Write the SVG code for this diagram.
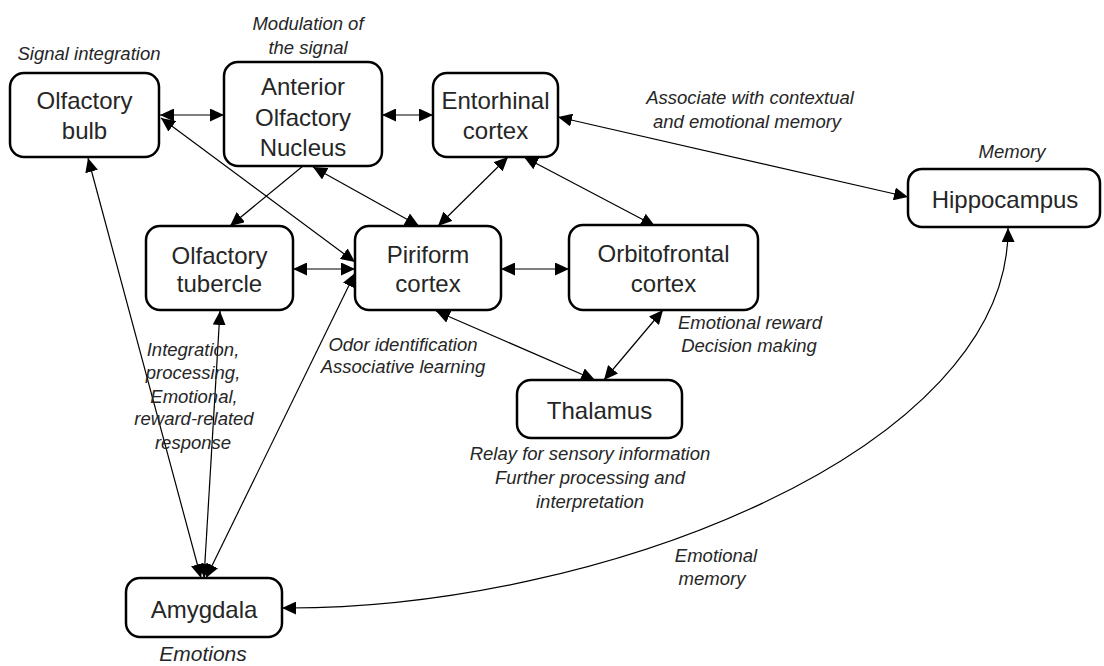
<svg xmlns="http://www.w3.org/2000/svg" width="1104" height="666" viewBox="0 0 1104 666">
<style>
.box{fill:#fff;stroke:#000;stroke-width:2.5}
.nt{font-family:"Liberation Sans",Arial,sans-serif;font-size:24px;fill:#262626;text-anchor:middle;dominant-baseline:central}
.lb{font-family:"Liberation Sans",Arial,sans-serif;font-size:18.5px;font-style:italic;fill:#262626;text-anchor:middle;dominant-baseline:central}
.cn{fill:none;stroke:#000;stroke-width:1.2;marker-start:url(#ah);marker-end:url(#ah)}
.one{marker-start:none}
</style>
<defs>
<marker id="ah" viewBox="0 0 14 13" refX="14" refY="6.5" markerWidth="14" markerHeight="13" markerUnits="userSpaceOnUse" orient="auto-start-reverse"><path d="M0,0 L14,6.5 L0,13 z" fill="#000"/></marker>
</defs>
<rect width="1104" height="666" fill="#fff"/>
<g id="connectors">
<path class="cn" d="M160,115 L224,115"/>
<path class="cn" d="M382,115 L433,115"/>
<path class="cn" d="M558,117 L908,197"/>
<path class="cn one" d="M303,166 L230,226"/>
<path class="cn" d="M161,118 L355,262"/>
<path class="cn" d="M313,167 L419,226"/>
<path class="cn" d="M508,157 L438,226"/>
<path class="cn" d="M524,157 L655,226"/>
<path class="cn" d="M293,269 L355,269"/>
<path class="cn" d="M501,269 L569,269"/>
<path class="cn" d="M436,311 L595,380"/>
<path class="cn" d="M663,310 L604,380"/>
<path class="cn" d="M88,158 L201,578"/>
<path class="cn" d="M220,311 L204,578"/>
<path class="cn" d="M355,273 L206,578"/>
<path class="cn" d="M282,608 C600,610 1010,450 1008,228"/>
</g>
<g id="olfactory-bulb">
<rect class="box" x="10" y="73" width="149" height="84" rx="14"/>
<text class="nt" x="84.5" y="100">Olfactory</text>
<text class="nt" x="84.5" y="130">bulb</text>
<text class="lb" x="89" y="53">Signal integration</text>
</g>
<g id="anterior-olfactory-nucleus">
<rect class="box" x="224" y="62" width="158" height="104" rx="14"/>
<text class="nt" x="303" y="86">Anterior</text>
<text class="nt" x="303" y="117">Olfactory</text>
<text class="nt" x="303" y="147">Nucleus</text>
<text class="lb" x="308" y="23">Modulation of</text>
<text class="lb" x="308" y="47">the signal</text>
</g>
<g id="entorhinal-cortex">
<rect class="box" x="433" y="73" width="125" height="84" rx="14"/>
<text class="nt" x="495.5" y="100">Entorhinal</text>
<text class="nt" x="495.5" y="130">cortex</text>
<text class="lb" x="750" y="97">Associate with contextual</text>
<text class="lb" x="747" y="121">and emotional memory</text>
</g>
<g id="hippocampus">
<rect class="box" x="908" y="169" width="192" height="58" rx="14"/>
<text class="nt" x="1005" y="199">Hippocampus</text>
<text class="lb" x="1012" y="151">Memory</text>
</g>
<g id="olfactory-tubercle">
<rect class="box" x="146" y="226" width="147" height="84" rx="14"/>
<text class="nt" x="219.5" y="255">Olfactory</text>
<text class="nt" x="219.5" y="283">tubercle</text>
<text class="lb" x="193" y="349">Integration,</text>
<text class="lb" x="193" y="372">processing,</text>
<text class="lb" x="194" y="396">Emotional,</text>
<text class="lb" x="194" y="418">reward-related</text>
<text class="lb" x="193" y="442">response</text>
</g>
<g id="piriform-cortex">
<rect class="box" x="355" y="226" width="146" height="84" rx="14"/>
<text class="nt" x="428" y="254">Piriform</text>
<text class="nt" x="428" y="283">cortex</text>
<text class="lb" x="403" y="344">Odor identification</text>
<text class="lb" x="403" y="366">Associative learning</text>
</g>
<g id="orbitofrontal-cortex">
<rect class="box" x="569" y="225" width="189" height="85" rx="14"/>
<text class="nt" x="663.5" y="253">Orbitofrontal</text>
<text class="nt" x="663.5" y="283">cortex</text>
<text class="lb" x="750" y="322">Emotional reward</text>
<text class="lb" x="749" y="345">Decision making</text>
</g>
<g id="thalamus">
<rect class="box" x="517" y="380" width="165" height="58" rx="14"/>
<text class="nt" x="599.5" y="410">Thalamus</text>
<text class="lb" x="590" y="453">Relay for sensory information</text>
<text class="lb" x="590" y="477">Further processing and</text>
<text class="lb" x="590" y="501">interpretation</text>
</g>
<g id="amygdala">
<rect class="box" x="126" y="578" width="156" height="59" rx="14"/>
<text class="nt" x="204" y="609">Amygdala</text>
<text class="lb" x="203" y="653" style="font-size:21px">Emotions</text>
<text class="lb" x="716" y="555">Emotional</text>
<text class="lb" x="712" y="578">memory</text>
</g>
</svg>
